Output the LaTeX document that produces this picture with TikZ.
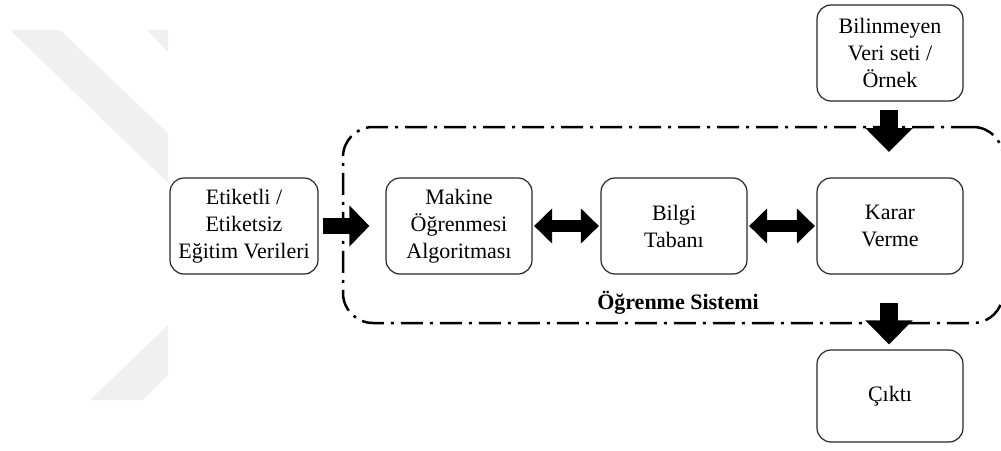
\documentclass[tikz,border=0pt]{standalone}
\usepackage{fontspec}
\setmainfont{Liberation Serif}
\usetikzlibrary{arrows.meta}
\begin{document}
\begin{tikzpicture}[x=1pt,y=-1pt,
  txt/.style={font=\fontsize{22}{27}\selectfont},
  blk/.style={txt, draw=black!85, line width=1.2pt, rounded corners=14pt,
    minimum width=146pt, minimum height=96pt, align=center, inner sep=0pt},
  sysbox/.style={draw=black, line width=2.5pt, rounded corners=30pt,
    dash pattern=on 22pt off 7pt on 3pt off 7pt,
    minimum width=660pt, minimum height=196pt, inner sep=0pt},
  fatarrow/.style={draw=black, line width=16pt,
    -{Triangle[length=20pt,width=40pt]}},
  twoway/.style={draw=black, line width=12pt,
    {Triangle[length=18pt,width=34pt]}-{Triangle[length=18pt,width=34pt]}},
  downarrow/.style={draw=black, line width=18pt,
    -{Triangle[length=24pt,width=46pt]}},
  emblem/.style={fill=black!6, draw=none}
]
\useasboundingbox (0,0) rectangle (1001,450);
\clip (0,0) rectangle (1001,450);

% faint background emblem
\fill[emblem] (10,30) -- (60,30) -- (168,133) -- (168,183) -- cycle;
\fill[emblem] (147,30) -- (168,30) -- (168,52) -- cycle;
\fill[emblem] (168,325) -- (90,400) -- (143,400) -- (168,375) -- cycle;

% learning system frame (its right side runs past the page edge)
\node[sysbox] (sys) at (673,225) {};
\node[font=\bfseries\fontsize{22}{27}\selectfont] (lbl) at (678,303) {Öğrenme Sistemi};

% blocks
\node[blk, minimum width=148pt] (etk) at (244,226) {Etiketli /\\Etiketsiz\\Eğitim Verileri};
\node[blk] (mak) at (459,226) {Makine\\Öğrenmesi\\Algoritması};
\node[blk] (bil) at (674,226) {Bilgi\\Tabanı};
\node[blk] (kar) at (890,226) {Karar\\Verme};
\node[blk] (unk) at (890,53) {Bilinmeyen\\Veri seti /\\Örnek};
\node[blk, minimum height=92pt] (out) at (890,396) {Çıktı};

\coordinate (inC) at (889,152);
\coordinate (outC) at (889,303);

% connectors
\draw[fatarrow, shorten <=4pt, shorten >=16pt] (etk.east) -- (mak.west);
\draw[twoway, shorten <=1.5pt, shorten >=1.5pt] (mak.east) -- (bil.west);
\draw[twoway, shorten <=1.5pt, shorten >=1.5pt] (bil.east) -- (kar.west);
\draw[downarrow, shorten <=8pt] (unk.south -| inC) -- (inC);
\draw[downarrow, shorten >=5pt] (outC) -- (out.north -| outC);
\end{tikzpicture}
\end{document}
